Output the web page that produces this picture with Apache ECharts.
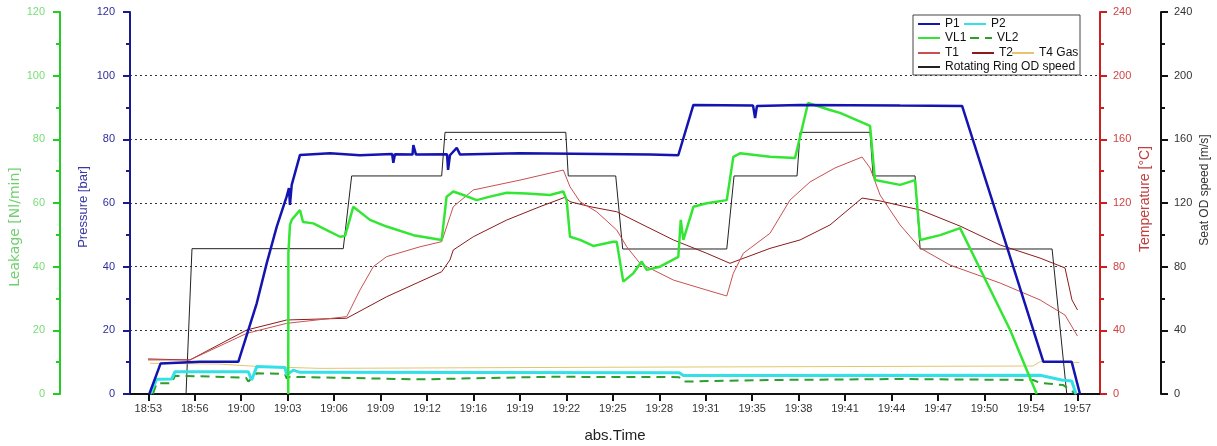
<!DOCTYPE html>
<html>
<head>
<meta charset="utf-8">
<script src="https://cdn.jsdelivr.net/npm/echarts@6/dist/echarts.min.js"></script>
<style>
html,body{margin:0;padding:0;background:#fff;}
#chart{width:1217px;height:446px;}
</style>
</head>
<body>
<div id="chart"></div>
<script>
// ---- data (time = minutes after 18:00) ----
const tickTimes  = [53.6, 56.8, 60.0, 63.2, 66.4, 69.6, 72.8, 76.0, 79.2, 82.4, 85.6, 88.8, 92.0, 95.2, 98.4, 101.6, 104.8, 108.0, 111.2, 114.4, 117.6];
const tickLabels = ['18:53','18:56','19:00','19:03','19:06','19:09','19:12','19:16','19:19','19:22','19:25','19:28','19:31','19:35','19:38','19:41','19:44','19:47','19:50','19:54','19:57'];

const P1 = [[53.67,0],[54.45,9.6],[57.16,10.1],[59.80,10.1],[60.49,20.1],[61.07,28.5],[61.76,41.1],[62.45,52.6],[63.13,62.0],[63.29,64.7],[63.36,59.4],[63.48,65.7],[64.05,75.1],[66.12,75.6],[68.18,75.0],[70.40,75.4],[70.48,72.6],[70.59,75.3],[71.80,75.2],[71.86,78.2],[72.04,75.2],[74.18,75.3],[74.25,70.4],[74.38,75.0],[74.85,77.3],[75.08,75.2],[79.21,75.6],[84.73,75.4],[88.17,75.2],[90.11,75.0],[91.15,90.8],[95.26,90.6],[95.40,86.7],[95.53,90.5],[98.50,90.8],[105.39,90.6],[109.66,90.5],[112.28,53.0],[115.26,10.1],[117.21,10.1],[117.78,0]];
const P2 = [[53.72,0],[54.18,4.6],[55.21,4.7],[55.44,7.0],[60.49,7.0],[60.72,4.4],[61.07,8.6],[63.02,8.3],[63.13,6.0],[63.59,7.5],[64.05,6.8],[90.18,6.7],[90.46,5.8],[115.03,5.9],[116.52,4.4],[117.21,4.1],[117.51,0]];
const VL1 = [[63.24,0],[63.25,44.2],[63.36,53.1],[63.48,54.7],[64.05,57.8],[64.26,54.0],[64.97,53.6],[65.89,51.5],[66.81,49.4],[67.15,49.6],[67.72,58.8],[68.87,54.7],[70.02,52.6],[71.86,49.9],[73.81,48.4],[74.15,62.0],[74.61,63.6],[75.30,62.5],[76.22,60.9],[77.14,62.0],[78.29,63.2],[79.67,63.0],[81.27,62.5],[82.19,63.6],[82.42,60.9],[82.65,49.4],[83.34,48.4],[84.26,46.5],[85.63,47.8],[85.87,47.8],[86.32,35.3],[87.01,37.9],[87.59,41.6],[87.93,39.0],[88.85,40.0],[90.11,43.1],[90.28,54.7],[90.46,48.4],[91.15,58.8],[92.07,59.9],[93.45,60.9],[93.90,74.5],[94.36,75.6],[96.43,74.5],[98.15,74.1],[99.05,91.4],[100.56,89.2],[101.25,88.3],[103.32,84.2],[103.66,67.2],[105.39,65.7],[106.42,67.2],[106.77,48.4],[108.15,49.9],[109.52,52.1],[112.97,20.1],[114.80,0]];
const VL2 = [[53.92,0],[54.18,3.4],[55.21,3.4],[55.44,5.7],[57.85,5.5],[60.33,5.1],[60.49,3.9],[61.07,6.5],[63.02,6.3],[63.13,4.9],[63.36,5.4],[72.32,4.6],[81.27,5.4],[90.16,5.3],[90.46,3.9],[96.43,4.4],[105.39,4.7],[114.55,4.4],[115.03,3.5],[116.63,2.8],[117.51,0]];
const T1 = [[53.58,21.4],[56.47,21.4],[60.38,38.1],[63.13,44.4],[67.27,48.6],[68.18,65.3],[69.10,80.0],[70.02,86.3],[72.32,92.5],[73.81,95.7],[74.38,111.4],[74.61,117.7],[75.99,128.2],[79.21,134.4],[82.19,140.7],[82.65,130.2],[83.34,120.8],[84.49,114.5],[85.87,103.0],[86.56,92.5],[87.47,82.1],[89.77,71.6],[92.07,65.3],[93.45,61.6],[93.90,75.8],[94.59,88.4],[96.43,101.0],[97.81,121.9],[99.18,133.2],[100.90,142.0],[102.77,148.9],[103.32,142.0],[104.01,125.0],[105.39,106.2],[106.77,91.7],[108.83,81.0],[112.28,69.7],[115.03,59.1],[116.75,49.6],[117.61,36.4]];
const T2 = [[53.58,22.0],[56.47,21.4],[60.38,40.2],[63.13,46.5],[67.27,47.6],[70.02,61.1],[73.81,76.8],[74.38,84.2],[74.61,90.5],[75.99,98.8],[78.29,109.3],[80.58,117.7],[82.31,123.6],[82.65,120.8],[84.03,117.7],[85.87,114.5],[87.47,107.2],[89.77,96.8],[92.07,88.4],[93.67,82.1],[96.43,91.5],[98.50,96.8],[100.56,106.2],[102.77,123.1],[104.01,121.3],[106.77,115.6],[109.52,105.5],[112.28,93.6],[115.03,85.4],[116.75,79.2],[117.23,59.1],[117.61,52.8]];
const T4 = [[53.72,19.3],[58.54,18.8],[61.30,17.2],[65.43,16.1],[84.73,16.8],[114.55,17.6],[115.03,20.3],[117.75,19.8]];
const SPEED = [[53.72,0],[56.20,0],[56.61,91.3],[67.03,91.3],[67.61,137.0],[73.81,137.0],[74.04,164.4],[82.36,164.4],[82.53,137.0],[85.80,137.0],[86.28,91.1],[93.45,91.1],[93.95,137.0],[98.29,137.0],[98.50,164.4],[103.32,164.4],[103.53,137.0],[106.42,137.0],[106.77,91.1],[115.86,91.1],[116.87,0]];

// ---- chart ----
const FONT = '"Liberation Sans", Arial, sans-serif';
const chart = echarts.init(document.getElementById('chart'), null, {renderer: 'canvas'});

function yAxis(opts) {
  return {
    type: 'value', position: opts.position, offset: opts.offset,
    min: 0, max: opts.max, interval: opts.interval,
    name: opts.name, nameLocation: 'middle', nameGap: opts.nameGap, nameMoveOverlap: false,
    nameTextStyle: {color: opts.nameColor, fontSize: opts.nameSize, fontFamily: opts.nameFont || FONT, padding: opts.namePadding || 0},
    axisLine: {show: true, lineStyle: {color: opts.color, width: 2}},
    axisTick: {show: true, inside: false, length: 7, lineStyle: {color: opts.color, width: 2}},
    minorTick: {show: true, splitNumber: 2, length: 4, lineStyle: {color: opts.color, width: 2}},
    axisLabel: {color: opts.labelColor, fontSize: 11, margin: opts.margin, fontFamily: FONT},
    splitLine: opts.split ? {show: true, showMinLine: false, showMaxLine: false, lineStyle: {color: '#333', width: 1, type: [2, 3]}} : {show: false},
    minorSplitLine: {show: false}
  };
}

const lineSeries = (name, data, yIdx, color, width, extra) => Object.assign({
  name, type: 'line', data, yAxisIndex: yIdx, symbol: 'none', showSymbol: false,
  lineStyle: {color, width}, itemStyle: {color}, animation: false
}, extra || {});

const legendItem = (name, left, top) => ({
  data: [name], left, top, padding: 0, itemGap: 0, itemWidth: 22, itemHeight: 12,
  itemStyle: {opacity: 0},
  textStyle: {fontSize: 12, color: '#111', fontFamily: FONT}, selectedMode: false, z: 20
});

const option = {
  animation: false,
  textStyle: {fontFamily: FONT},
  grid: {left: 130, right: 117, top: 12, bottom: 52, containLabel: false, outerBoundsMode: 'none'},
  xAxis: {
    type: 'value', min: 52.34, max: 119.16,
    name: 'abs.Time', nameLocation: 'middle', nameGap: 34,
    nameTextStyle: {color: '#222', fontSize: 15, fontFamily: FONT},
    axisLine: {show: true, lineStyle: {color: '#111', width: 2}},
    axisTick: {show: true, inside: false, length: 7, customValues: tickTimes, lineStyle: {color: '#111', width: 2}},
    axisLabel: {show: true, customValues: tickTimes, color: '#333', fontSize: 11, margin: 9, fontFamily: FONT,
      formatter: v => { const i = tickTimes.findIndex(t => Math.abs(t - v) < 0.01); return i >= 0 ? tickLabels[i] : ''; }},
    splitLine: {show: false}
  },
  yAxis: [
    yAxis({position: 'left', offset: 0, max: 120, interval: 20, name: 'Pressure [bar]', nameGap: 40, nameSize: 13, color: '#1a1a90', labelColor: '#2e2e9a', nameColor: '#3838a8', margin: 15, split: true, namePadding: [0, 8, 0, 0]}),
    yAxis({position: 'left', offset: 70, max: 120, interval: 20, name: 'Leakage [Nl/min]', nameGap: 38, nameSize: 14, nameFont: '"DejaVu Sans", sans-serif', color: '#22cc22', labelColor: '#77dd77', nameColor: '#70d070', margin: 15, namePadding: [0, 48, 0, 0]}),
    yAxis({position: 'right', offset: 0, max: 240, interval: 40, name: 'Temperature [°C]', nameGap: 38, nameSize: 14, color: '#cc2020', labelColor: '#cc4444', nameColor: '#c04040', margin: 13, namePadding: [0, 0, 0, 8]}),
    yAxis({position: 'right', offset: 61, max: 240, interval: 40, name: 'Seat OD speed [m/s]', nameGap: 38, nameSize: 12, color: '#111', labelColor: '#333', nameColor: '#333', margin: 13, namePadding: [0, 0, 0, 26]})
  ],
  legend: [
    legendItem('P1', 917, 18), legendItem('P2', 963, 18),
    legendItem('VL1', 917, 32), legendItem('VL2', 969, 32),
    legendItem('T1', 917, 47), legendItem('T2', 971, 47), legendItem('T4 Gas', 1011, 47),
    legendItem('Rotating Ring OD speed', 917, 61)
  ],
  graphic: [{type: 'rect', shape: {x: 913, y: 15, width: 167, height: 60}, style: {fill: '#fff', stroke: '#444', lineWidth: 1}, z: 10}],
  series: [
    lineSeries('Rotating Ring OD speed', SPEED, 3, '#222', 1),
    lineSeries('T4 Gas', T4, 2, '#e6c46e', 1),
    lineSeries('T2', T2, 2, '#8b1a1a', 1),
    lineSeries('T1', T1, 2, '#c85050', 1),
    lineSeries('VL2', VL2, 1, '#2b9e2b', 2, {lineStyle: {color: '#2b9e2b', width: 2, type: [9, 6]}}),
    lineSeries('P2', P2, 0, '#33e0e8', 3),
    lineSeries('VL1', VL1, 1, '#33e633', 2.5),
    lineSeries('P1', P1, 0, '#1414b0', 2.5)
  ]
};
chart.setOption(option);
</script>
</body>
</html>
